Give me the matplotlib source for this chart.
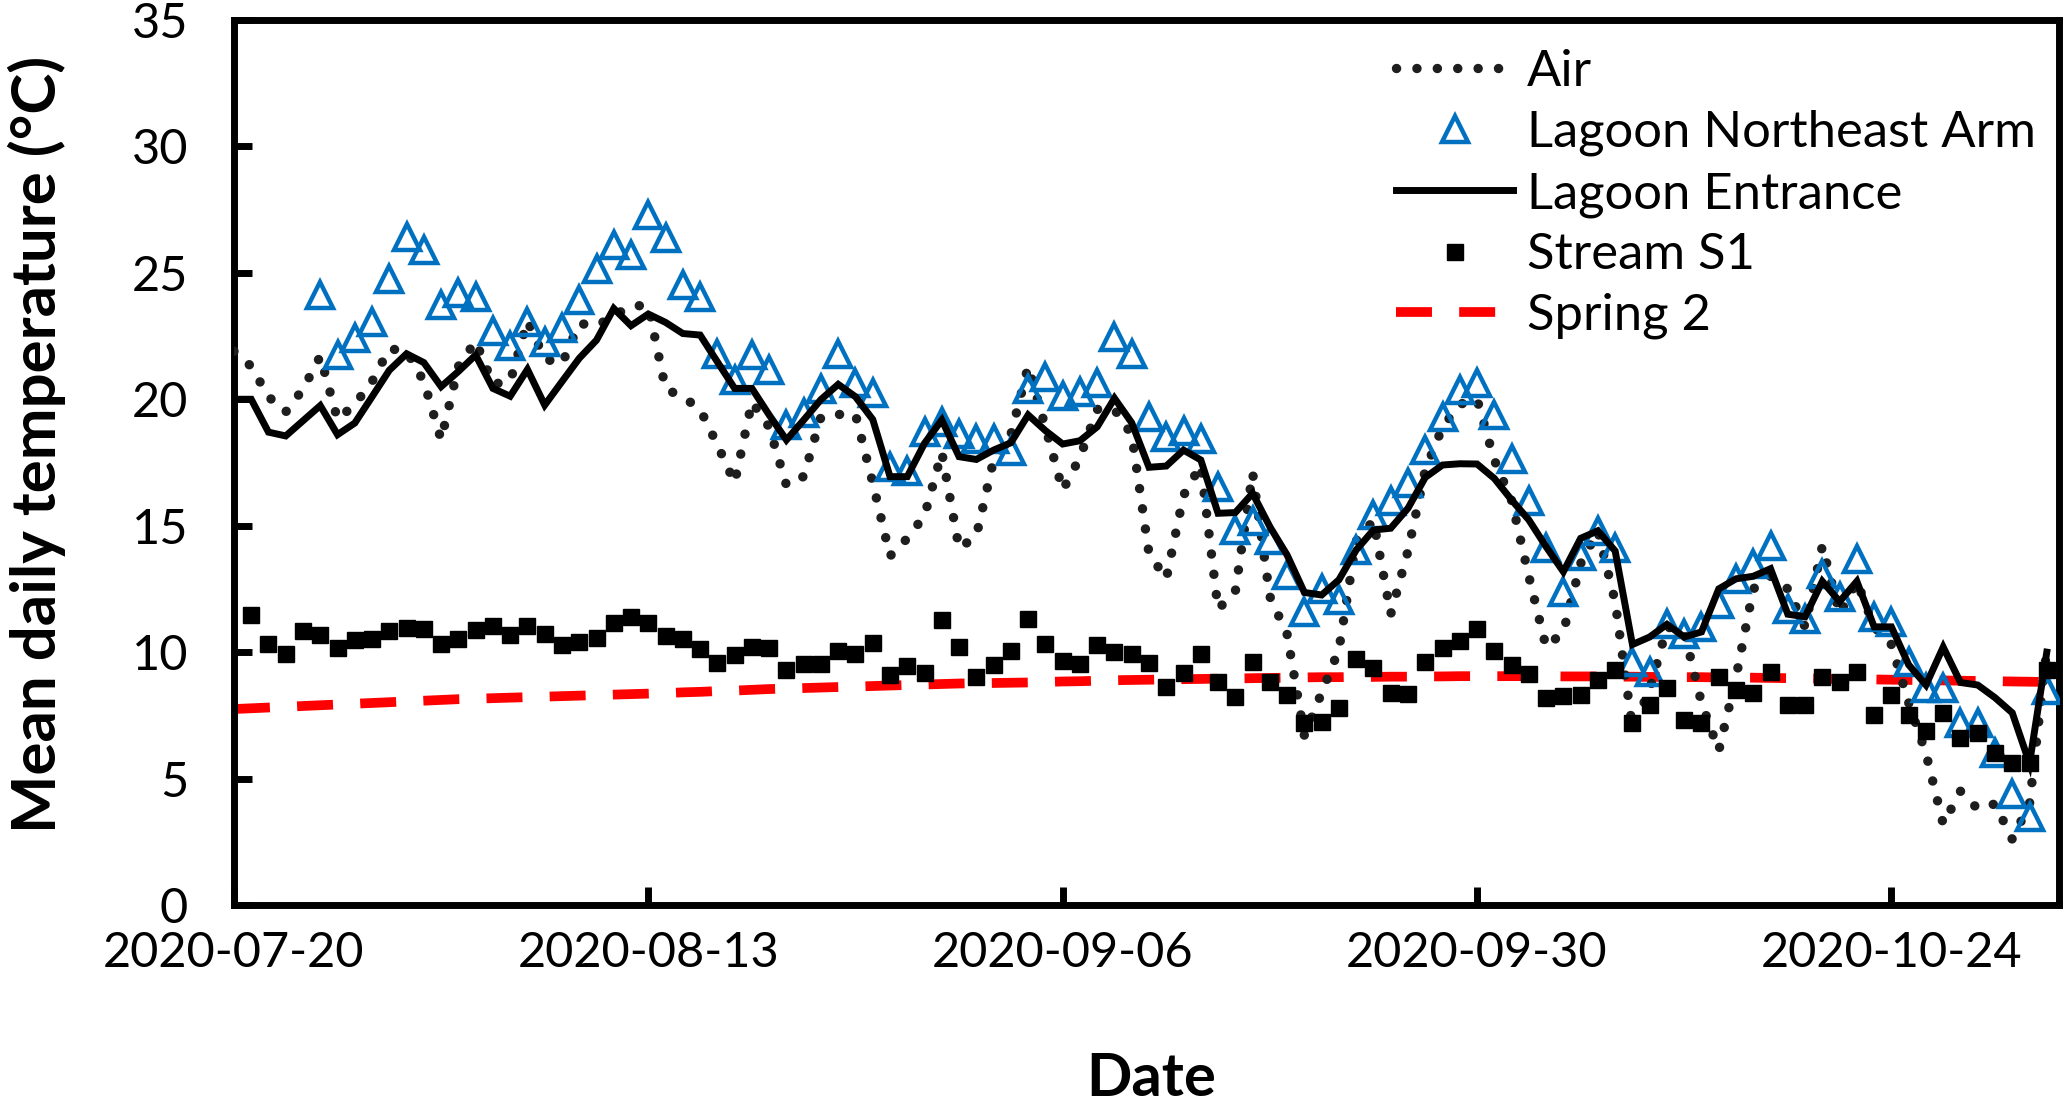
import numpy as np
import pandas as pd
import matplotlib
matplotlib.use('Agg')
import matplotlib.pyplot as plt
import matplotlib.dates as mdates

plt.rcParams['font.family'] = ['Lato', 'DejaVu Sans']

# daily means
air_start = '2020-07-20'
air = [21.9, 21.3, 20.1, 19.5, 20.4, 21.7, 19.2, 19.8, 20.7, 22.0,
       21.9, 20.7, 18.4, 21.3, 22.3, 20.6, 20.7, 23.1, 21.6, 21.4,
       23.0, 22.9, 23.3, 23.7, 23.7, 20.4, 20.1, 19.6, 18.2, 16.7,
       19.9, 18.9, 16.6, 16.95, 19.3, 19.4, 19.4, 16.7, 13.8, 14.5,
       15.4, 17.9, 14.1, 14.6, 17.6, 18.6, 21.3, 18.9, 16.4, 17.7,
       19.6, 19.6, 18.6, 13.9, 12.9, 16.2, 17.4, 11.7, 12.4, 17.1,
       12.2, 10.7, 6.7, 8.4, 10.1, 14.4, 15.2, 11.5, 14.0, 17.2,
       18.9, 19.8, 20.0, 17.6, 16.0, 13.0, 10.2, 10.8, 13.5, 14.8,
       12.0, 7.0, 8.5, 11.0, 10.8, 8.0, 6.1, 9.0, 12.5, 13.0,
       12.5, 11.0, 14.2, 11.5, 12.8, 11.0, 10.3, 8.0, 6.0, 3.2,
       4.5, 3.8, 4.0, 2.6, 4.0, 10.1]

arm_start = '2020-07-25'
lagoon_arm = [24.12, 21.75, 22.41, 23.06, 24.74, 26.42, 25.90, 23.72, 24.21, 24.05,
              22.71, 22.10, 23.06, 22.27, 22.80, 23.92, 25.17, 26.09, 25.70, 27.28,
              26.36, 24.51, 24.05, 21.81, 20.76, 21.75, 21.15, 18.98, 19.44, 20.39,
              21.81, 20.63, 20.23, 17.31, 17.18, 18.69, 19.11, 18.63, 18.43, 18.43,
              17.97, 20.40, 20.89, 20.14, 20.28, 20.63, 22.47, 21.81, 19.31, 18.49,
              18.75, 18.41, 16.54, 14.83, 15.20, 14.43, 13.05, 11.60, 12.49, 12.06,
              14.04, 15.42, 15.99, 16.68, 17.99, 19.31, 20.36, 20.65, 19.38, 17.62,
              15.99, 14.11, 12.39, 13.8, 14.8, 14.1, 9.6, 9.2, 11.1, 10.7,
              11.0, 11.9, 12.9, 13.5, 14.2, 11.7, 11.3, 13.1, 12.2, 13.7,
              11.4, 11.2, 9.6, 8.6, 8.6, 7.2, 7.2, 6.0, 4.4, 3.5, 8.5]

entrance_start = '2020-07-20'
lagoon_entrance = [20.0, 20.0, 18.7, 18.55, 19.15, 19.75, 18.6, 19.06, 20.1, 21.15,
                   21.8, 21.45, 20.5, 21.1, 21.75, 20.43, 20.12, 21.18, 19.77, 20.7,
                   21.62, 22.34, 23.59, 22.91, 23.37, 23.04, 22.6, 22.54, 21.48, 20.43,
                   20.43, 19.38, 18.39, 19.18, 19.99, 20.59, 20.1, 19.2, 16.94, 16.94,
                   18.26, 19.18, 17.73, 17.62, 17.99, 18.28, 19.38, 18.76, 18.23, 18.36,
                   18.91, 20.04, 19.07, 17.31, 17.36, 17.99, 17.6, 15.49, 15.52, 16.28,
                   14.96, 13.84, 12.36, 12.26, 12.86, 14.04, 14.83, 14.9, 15.69, 16.91,
                   17.4, 17.45, 17.44, 16.87, 16.02, 15.23, 14.17, 13.18, 14.5, 14.8,
                   14.0, 10.3, 10.6, 11.1, 10.6, 10.8, 12.5, 12.9, 13.0, 13.3,
                   11.5, 11.4, 12.8, 12.0, 12.8, 11.0, 11.0, 9.5, 8.7, 10.2,
                   8.8, 8.7, 8.2, 7.6, 5.6, 10.0]

stream_start = '2020-07-21'
stream_s1 = [11.47, 10.32, 9.93, 10.85, 10.68, 10.17, 10.48, 10.52, 10.85, 10.95,
             10.92, 10.32, 10.52, 10.88, 11.05, 10.68, 11.05, 10.72, 10.29, 10.41,
             10.56, 11.15, 11.39, 11.15, 10.64, 10.52, 10.13, 9.57, 9.89, 10.21,
             10.17, 9.30, 9.54, 9.54, 10.05, 9.93, 10.36, 9.10, 9.46, 9.18,
             11.27, 10.21, 9.02, 9.50, 10.05, 11.31, 10.32, 9.65, 9.54, 10.29,
             10.01, 9.93, 9.57, 8.63, 9.18, 9.93, 8.80, 8.21, 9.61, 8.80,
             8.31, 7.19, 7.24, 7.80, 9.73, 9.38, 8.37, 8.34, 9.61, 10.17,
             10.44, 10.92, 10.05, 9.50, 9.14, 8.19, 8.27, 8.3, 8.9, 9.3,
             7.2, 7.9, 8.6, 7.3, 7.2, 9.0, 8.5, 8.4, 9.2, 7.9,
             7.9, 9.0, 8.8, 9.2, 7.5, 8.3, 7.5, 6.9, 7.6, 6.6,
             6.8, 6.0, 5.6, 5.6, 9.3]

spring_start = '2020-07-20'
spring_2 = [7.75, 7.78, 7.81, 7.84, 7.87, 7.90, 7.93, 7.96, 7.99, 8.02,
            8.05, 8.08, 8.11, 8.14, 8.16, 8.18, 8.20, 8.22, 8.24, 8.26,
            8.28, 8.30, 8.32, 8.34, 8.36, 8.38, 8.41, 8.43, 8.46, 8.48,
            8.51, 8.54, 8.56, 8.58, 8.60, 8.62, 8.64, 8.66, 8.68, 8.70,
            8.72, 8.74, 8.76, 8.77, 8.78, 8.79, 8.80, 8.82, 8.84, 8.85,
            8.87, 8.89, 8.90, 8.91, 8.92, 8.93, 8.94, 8.95, 8.96, 8.97,
            8.98, 8.99, 9.00, 9.01, 9.01, 9.02, 9.02, 9.03, 9.03, 9.04,
            9.04, 9.05, 9.05, 9.05, 9.05, 9.05, 9.05, 9.04, 9.04, 9.04,
            9.03, 9.03, 9.02, 9.02, 9.01, 9.01, 9.00, 8.99, 8.99, 8.98,
            8.97, 8.96, 8.95, 8.94, 8.93, 8.92, 8.91, 8.90, 8.89, 8.88,
            8.87, 8.86, 8.85, 8.84, 8.83, 8.82]

tick_dates = ['2020-07-20', '2020-08-13', '2020-09-06', '2020-09-30', '2020-10-24']
y_ticks = [0, 5, 10, 15, 20, 25, 30, 35]


def days(start, values):
    return pd.date_range(start, periods=len(values), freq='D')


fig = plt.figure(figsize=(20.63, 11.03), dpi=100)
ax = fig.add_axes([0.1134, 0.1795, 0.8846, 0.8024])

ax.plot(days(spring_start, spring_2), spring_2, color='#ff0000', lw=7,
        linestyle=(0, (3.7, 2.8)), dash_capstyle='butt', zorder=2, label='Spring 2')
ax.plot(days(air_start, air), air, color='#1e1e1e', lw=6.8,
        linestyle=(0, (0.01, 2.15)), dash_capstyle='round', zorder=3, label='Air')
ax.plot(days(arm_start, lagoon_arm), lagoon_arm, linestyle='none', marker='^',
        markersize=19, markerfacecolor='none', markeredgecolor='#0070c0',
        markeredgewidth=3.2, zorder=4, label='Lagoon Northeast Arm')
ax.plot(days(entrance_start, lagoon_entrance), lagoon_entrance, color='black',
        lw=5, solid_joinstyle='miter', zorder=5, label='Lagoon Entrance')
ax.plot(days(stream_start, stream_s1), stream_s1, linestyle='none', marker='s',
        markersize=11.5, color='black', zorder=6, label='Stream S1')

x0 = pd.Timestamp('2020-07-20')
ax.set_xlim(x0, x0 + pd.Timedelta(days=105.7))
ax.set_ylim(0, 35)
ax.set_xticks(pd.to_datetime(tick_dates))
ax.xaxis.set_major_formatter(mdates.DateFormatter('%Y-%m-%d'))
ax.set_yticks(y_ticks)

for s in ax.spines.values():
    s.set_linewidth(5)
ax.tick_params(axis='both', direction='in', length=13, width=5, labelsize=35)
ax.tick_params(axis='y', pad=33)
ax.tick_params(axis='x', pad=19)

fig.text(0.018, 0.597, 'Mean daily temperature (°C)', rotation=90, ha='center',
         va='center', fontsize=44.5, fontweight='bold')
fig.text(0.558, 0.022, 'Date', ha='center', va='center', fontsize=43,
         fontweight='bold')

handles, labels = ax.get_legend_handles_labels()
order = ['Air', 'Lagoon Northeast Arm', 'Lagoon Entrance', 'Stream S1', 'Spring 2']
hmap = dict(zip(labels, handles))
ax.legend([hmap[k] for k in order], order, loc='upper left',
          bbox_to_anchor=(0.637, 0.967), frameon=False, fontsize=36.5,
          handlelength=2.3, handletextpad=0.28, labelspacing=0.29,
          borderpad=0, borderaxespad=0, numpoints=1)

fig.savefig('out.png', dpi=100)
